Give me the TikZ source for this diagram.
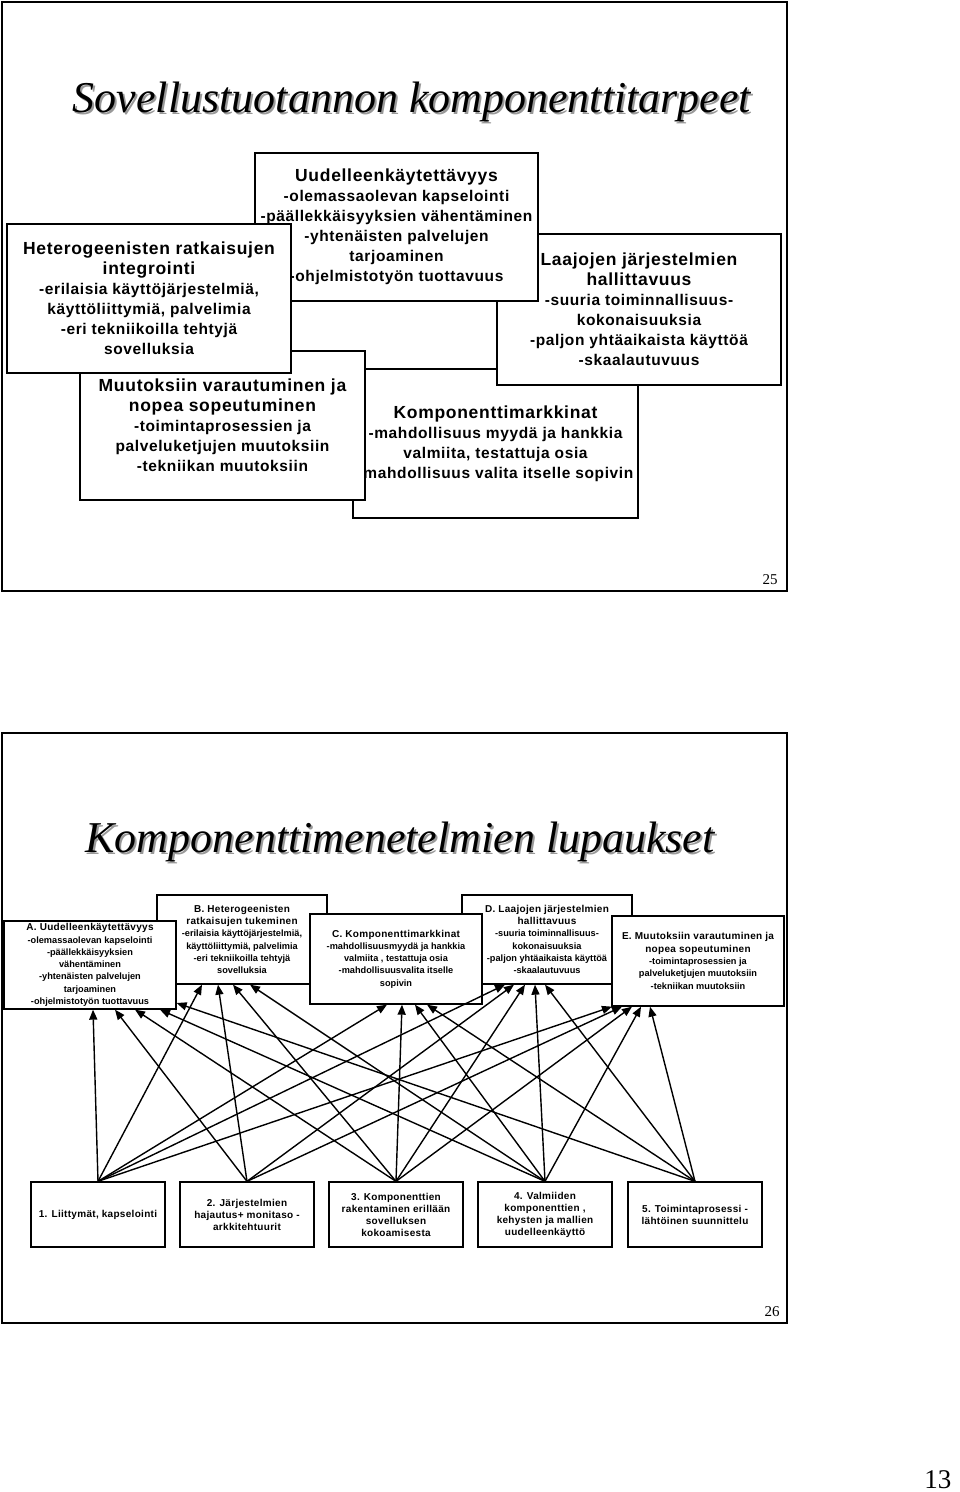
\documentclass[tikz,border=0pt]{standalone}
\usepackage{fontspec}
\setmainfont{Liberation Serif}
\newfontfamily\slidefont[LetterSpace=4]{Liberation Sans}
\newfontfamily\tightfont{Liberation Sans}
\newfontfamily\loosefont[LetterSpace=3]{Liberation Sans}
\usetikzlibrary{arrows.meta}
\newcommand{\hd}[1]{{\loosefont\bfseries\fontsize{10}{12.3}\selectfont #1}}
\newcommand{\bighd}[1]{{\fontsize{17.5}{20}\selectfont #1}}

\begin{document}
\begin{tikzpicture}[x=1pt, y=-1pt,
    frame/.style={draw, line width=1.6pt},
    titletext/.style={font=\fontsize{44}{50}\selectfont\itshape, anchor=base},
    bigbox/.style={draw, fill=white, line width=1.5pt, inner sep=0pt, align=center,
      minimum width=284pt, minimum height=149pt,
      font=\slidefont\bfseries\fontsize{15.5}{20}\selectfont},
    smallbox/.style={draw, fill=white, line width=1.3pt, inner sep=0pt, align=center,
      minimum width=171pt, minimum height=89pt,
      font=\tightfont\bfseries\fontsize{9.2}{12.3}\selectfont},
    stepbox/.style={smallbox, minimum width=134pt, minimum height=65pt,
      font=\loosefont\bfseries\fontsize{10}{12}\selectfont},
    conn/.style={line width=1.4pt, -{Triangle[length=10pt,width=8pt]}},
    pagenr/.style={font=\fontsize{15}{15}\selectfont, anchor=base}]

  \useasboundingbox (0,0) rectangle (960,1492);
  \fill[white] (0,0) rectangle (960,1492);

  % --- kalvo 25 ---
  \draw[frame] (2,2) rectangle (787,591);
  \node[titletext, text=black!40] at (414,114) {Sovellustuotannon komponenttitarpeet};
  \node[titletext] (title1) at (412,112) {Sovellustuotannon komponenttitarpeet};

  \node[bigbox, minimum width=285pt] (markk) at (495.5,443.5)
    {\bighd{Komponenttimarkkinat}\\-mahdollisuus myydä ja hankkia\\valmiita, testattuja osia\\-mahdollisuus valita itselle sopivin};
  \node[bigbox, minimum width=285pt] (muut) at (222.5,425.5)
    {\bighd{Muutoksiin varautuminen ja}\\\bighd{nopea sopeutuminen}\\-toimintaprosessien ja\\palveluketjujen muutoksiin\\-tekniikan muutoksiin};
  \node[bigbox, minimum height=151pt] (laaj) at (639,309.5)
    {\bighd{Laajojen järjestelmien}\\\bighd{hallittavuus}\\-suuria toiminnallisuus-\\kokonaisuuksia\\-paljon yhtäaikaista käyttöä\\-skaalautuvuus};
  \node[bigbox, minimum width=283pt, minimum height=148pt] (reuse) at (396.5,227)
    {\bighd{Uudelleenkäytettävyys}\\-olemassaolevan kapselointi\\-päällekkäisyyksien vähentäminen\\-yhtenäisten palvelujen\\tarjoaminen\\-ohjelmistotyön tuottavuus};
  \node[bigbox] (hetero) at (149,298.5)
    {\bighd{Heterogeenisten ratkaisujen}\\\bighd{integrointi}\\-erilaisia käyttöjärjestelmiä,\\käyttöliittymiä, palvelimia\\-eri tekniikoilla tehtyjä\\sovelluksia};

  \node[pagenr] (p25) at (770,584) {25};

  % --- kalvo 26 ---
  \draw[frame] (2,733) rectangle (787,1323);
  \node[titletext, text=black!40] at (402,854) {Komponenttimenetelmien lupaukset};
  \node[titletext] (title2) at (400,852) {Komponenttimenetelmien lupaukset};

  \node[smallbox, minimum width=170pt] (tB) at (242,939.5)
    {\hd{B. Heterogeenisten}\\\hd{ratkaisujen tukeminen}\\-erilaisia käyttöjärjestelmiä,\\käyttöliittymiä, palvelimia\\-eri tekniikoilla tehtyjä\\sovelluksia};
  \node[smallbox, minimum width=172pt, minimum height=88pt] (tA) at (90,965)
    {\hd{A. Uudelleenkäytettävyys}\\-olemassaolevan kapselointi\\-päällekkäisyyksien\\vähentäminen\\-yhtenäisten palvelujen\\tarjoaminen\\-ohjelmistotyön tuottavuus};
  \node[smallbox, minimum width=170pt] (tD) at (547,939.5)
    {\hd{D. Laajojen järjestelmien}\\\hd{hallittavuus}\\-suuria toiminnallisuus-\\kokonaisuuksia\\-paljon yhtäaikaista käyttöä\\-skaalautuvuus};
  \node[smallbox, minimum width=172pt, minimum height=90pt] (tC) at (396,959)
    {\hd{C. Komponenttimarkkinat}\\-mahdollisuusmyydä ja hankkia\\valmiita , testattuja osia\\-mahdollisuusvalita itselle\\sopivin};
  \node[smallbox, minimum width=172pt, minimum height=90pt] (tE) at (698,961)
    {\hd{E. Muutoksiin varautuminen ja}\\\hd{nopea sopeutuminen}\\-toimintaprosessien ja\\palveluketjujen muutoksiin\\-tekniikan muutoksiin};

  \node[stepbox] (b1) at (98,1214.5) {1. Liittymät, kapselointi};
  \node[stepbox] (b2) at (247,1214.5) {2. Järjestelmien\\hajautus+ monitaso -\\arkkitehtuurit};
  \node[stepbox] (b3) at (396,1214.5) {3. Komponenttien\\rakentaminen erillään\\sovelluksen\\kokoamisesta};
  \node[stepbox] (b4) at (545,1214.5) {4. Valmiiden\\komponenttien ,\\kehysten ja mallien\\uudelleenkäyttö};
  \node[stepbox] (b5) at (695,1214.5) {5. Toimintaprosessi -\\lähtöinen suunnittelu};

  % nuolet keinoista lupauksiin
  \foreach \s/\t/\dx in {1/A/3, 2/A/25, 3/A/45, 4/A/70,
                         1/B/-40, 2/B/-24, 3/B/-9, 4/B/8,
                         1/C/-9, 3/C/6, 4/C/19, 5/C/31,
                         1/D/-42, 2/D/-33, 3/D/-22, 4/D/-12, 5/D/-2,
                         1/E/-86, 2/E/-76, 3/E/-66, 4/E/-57, 5/E/-48}
    \draw[conn] (b\s.north) -- ([xshift=\dx pt]t\t.south);
  \draw[conn] (b5.north) -- ([yshift=-38pt]tA.east);

  \node[pagenr] (p26) at (772,1316) {26};
  \node[font=\fontsize{27}{27}\selectfont, anchor=base east] (p13) at (955,1488) {13};
\end{tikzpicture}
\end{document}
